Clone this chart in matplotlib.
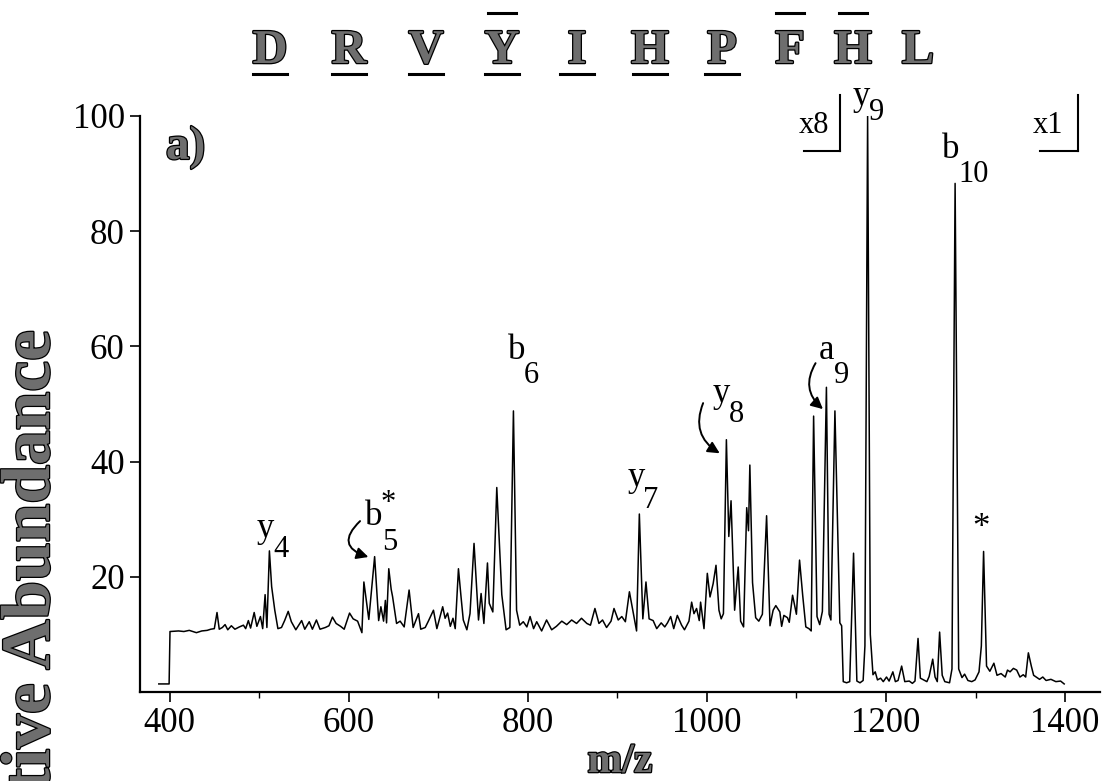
import matplotlib
matplotlib.use("Agg")
import matplotlib.pyplot as plt
import matplotlib.patheffects as pe
from matplotlib.patches import FancyArrowPatch
from matplotlib.ticker import MultipleLocator

# ---------------- data ----------------
mz = [388, 399.5, 400.5, 410, 416, 422, 430, 436, 442, 446, 450, 453, 455.5, 459, 462, 465, 469,
      473, 478, 482.5, 485, 488, 490.5, 494.5, 497.5, 501.5, 504, 506.7, 508.7, 511.5, 514, 517.5,
      521, 525, 528.5, 532.5, 536, 541, 547.5, 551, 556, 559.5, 564, 568, 574, 578, 581.9, 586,
      591, 595, 601, 605, 610, 614.8, 617, 622.5, 629, 633.5, 636, 639, 641, 642.3, 644.8, 647.5,
      649, 653.5, 657.5, 662, 667.5, 672, 678, 680.5, 685.5, 689, 694.7, 698.5, 705, 707.7, 710.5,
      713.5, 716.5, 719, 722.6, 725.5, 728, 732, 735.5, 740, 745, 747.9, 751, 755, 757, 761,
      765.4, 771, 775.8, 780, 784, 787.5, 791, 795, 799, 802.6, 806.5, 810, 815.5, 821, 826.7,
      832, 838, 843.5, 849, 854.5, 860, 866, 870, 875, 879.5, 883.5, 888, 893, 896.3, 901, 905,
      909, 913.5, 918, 921.5, 924.6, 928.5, 932, 935.5, 940, 944, 949, 953, 956, 959.6, 963,
      967, 971.8, 975, 980, 983, 985.6, 988.5, 991.5, 993, 996.8, 1000.5, 1003.5, 1007, 1010.2,
      1013.5, 1016, 1018.5, 1021.8, 1024.5, 1027, 1031, 1035, 1037.7, 1041, 1044.5, 1046.5,
      1048, 1051, 1054.5, 1058, 1062, 1066.7, 1070.5, 1074, 1077, 1081.5, 1083.5, 1086, 1090,
      1092, 1095.7, 1100, 1103.5, 1107, 1110.5, 1114, 1116.5, 1119.2, 1123, 1126, 1129, 1133.5,
      1136.5, 1138.5, 1143, 1146.5, 1148.5, 1150.5, 1152.3, 1156, 1159.5, 1163.8, 1167.5, 1171,
      1174.5, 1176.5, 1179.5, 1182.5, 1185.5, 1188, 1190.5, 1194, 1197, 1200.6, 1203.5, 1207.7,
      1210.5, 1213.5, 1217.5, 1221, 1226, 1229.5, 1232.4, 1235.8, 1238.4, 1242, 1245.7, 1248.2,
      1252.2, 1254.8, 1257.3, 1259.9, 1262.8, 1265.7, 1271, 1273.7, 1277.2, 1281.2, 1284.9,
      1287.8, 1291.5, 1295.8, 1299.5, 1303.9, 1306.5, 1309, 1312.3, 1316, 1320.5, 1324, 1328.5,
      1333.2, 1335.7, 1338.6, 1342.3, 1346, 1349.6, 1353.3, 1356, 1359, 1362.3, 1364.9, 1367.8,
      1371.5, 1375.1, 1378.8, 1384.2, 1389.7, 1395, 1399]
intensity = [1.4, 1.4, 10.5, 10.6, 10.5, 10.7, 10.3, 10.6, 10.7, 10.9, 11.0, 13.8, 10.9, 11.2, 11.7,
             10.8, 11.5, 10.9, 11.3, 11.6, 11.0, 12.4, 11.1, 13.8, 11.4, 13.1, 11.0, 16.9, 11.2,
             24.5, 18.3, 14.2, 11.0, 11.2, 12.4, 14.0, 12.2, 10.8, 12.4, 10.9, 12.2, 10.9, 12.5,
             10.9, 11.2, 11.5, 13.0, 11.9, 11.4, 10.9, 13.7, 12.7, 12.3, 10.3, 19.1, 12.6, 23.5,
             12.4, 14.8, 12.3, 15.9, 12.0, 21.4, 17.8, 16.6, 11.9, 12.3, 11.3, 17.7, 11.2, 13.6,
             10.9, 11.2, 12.3, 14.2, 11.0, 14.8, 12.8, 13.7, 11.4, 12.8, 11.0, 21.4, 16.5, 12.5,
             10.8, 13.6, 25.8, 12.5, 17.1, 11.9, 22.4, 15.4, 13.9, 35.5, 16.9, 10.8, 11.2, 48.8,
             14.2, 11.6, 12.2, 11.3, 13.1, 11.0, 12.2, 10.6, 12.5, 10.8, 11.4, 12.3, 11.7, 12.5,
             11.9, 12.8, 11.9, 11.6, 14.5, 11.9, 12.5, 11.2, 12.3, 14.5, 12.5, 13.1, 12.2, 17.4,
             13.6, 10.6, 30.9, 12.7, 19.1, 12.7, 12.4, 11.0, 12.0, 11.3, 12.0, 13.1, 11.0, 13.3,
             11.6, 10.8, 12.3, 15.6, 13.6, 14.5, 12.4, 15.6, 11.0, 20.6, 16.5, 18.8, 22.0, 14.2,
             12.7, 13.6, 43.8, 27.0, 33.2, 14.2, 21.7, 12.3, 11.3, 32.0, 28.0, 39.4, 19.0, 12.9,
             12.3, 13.5, 30.6, 11.5, 14.2, 15.0, 13.9, 11.4, 13.3, 12.9, 12.1, 16.8, 13.5, 22.9,
             16.8, 11.3, 11.0, 10.6, 47.9, 13.1, 11.7, 14.0, 52.9, 13.5, 12.5, 48.8, 25.0, 12.0,
             11.5, 1.8, 1.6, 1.8, 24.1, 1.9, 1.6, 2.0, 8.0, 100.0, 10.0, 3.0, 3.5, 2.1, 2.4, 1.8,
             2.6, 1.9, 3.5, 1.8, 2.0, 4.5, 1.8, 1.9, 1.5, 1.9, 9.3, 2.4, 2.1, 1.8, 2.7, 5.7, 2.6,
             1.8, 10.4, 2.9, 1.8, 1.6, 4.0, 88.3, 4.0, 2.5, 3.1, 2.0, 1.8, 2.1, 3.5, 8.0, 24.4,
             4.5, 3.6, 5.0, 2.9, 3.2, 2.6, 3.8, 3.5, 4.1, 3.8, 2.6, 3.0, 2.6, 6.8, 4.5, 2.9, 2.6,
             2.2, 2.6, 2.0, 2.2, 1.8, 1.9, 1.4]

x_ticks = [400, 600, 800, 1000, 1200, 1400]
y_ticks = [20, 40, 60, 80, 100]

sequence = ["D", "R", "V", "Y", "I", "H", "P", "F", "H", "L"]
underlined = [True, True, True, True, True, True, True, False, False, False]
overlined = [False, False, False, True, False, False, False, True, True, False]

# ion labels: (main, subscript, superscript)
ion_labels = [("y", "4", ""), ("b", "5", "*"), ("b", "6", ""), ("y", "7", ""),
              ("y", "8", ""), ("a", "9", ""), ("y", "9", ""), ("b", "10", ""), ("*", "", "")]

# ---------------- figure ----------------
SERIF = ["Liberation Serif", "DejaVu Serif"]
plt.rcParams["font.family"] = SERIF

W, H = 1105, 781
fig = plt.figure(figsize=(W / 100, H / 100), dpi=100)
ax = fig.add_axes([140 / W, 1 - 692 / H, 960 / W, (692 - 116) / H])

ax.plot(mz, intensity, color="black", lw=1.1, solid_joinstyle="round")

ax.set_xlim(367, 1439)
ax.set_ylim(0, 100)
for s in ("top", "right"):
    ax.spines[s].set_visible(False)
for s in ("left", "bottom"):
    ax.spines[s].set_linewidth(1.6)
ax.spines["left"].set_bounds(0, 100)

ax.set_xticks(x_ticks)
ax.set_xticklabels([str(t) for t in x_ticks])
ax.xaxis.set_minor_locator(MultipleLocator(100))
ax.set_yticks(y_ticks)
ax.set_yticklabels([str(t) for t in y_ticks])
ax.tick_params(axis="both", which="major", direction="out", length=7, width=1.2,
               labelsize=25, pad=4)
ax.tick_params(axis="x", which="minor", direction="out", length=4, width=1.0)

gray_fx = [pe.withStroke(linewidth=1.8, foreground="black")]
GRAY = "#6e6e6e"

ax.set_xlabel("m/z", fontsize=30, fontweight="bold", color=GRAY, labelpad=2,
              path_effects=gray_fx)
# y label: cut off at the bottom edge as in the reference
fig.text(32 / W, 1 - 330 / H, "Relative Abundance", rotation=90, ha="center", va="top",
         fontsize=50, fontweight="bold", color=GRAY, path_effects=gray_fx)

ax.text(396, 94.5, "a)", fontsize=34, fontweight="bold", color=GRAY,
        path_effects=gray_fx, ha="left", va="center")

# sequence on top
letter_px = [270, 349, 426, 502, 577, 650, 722, 790, 853, 918]
for ch, xp, ul, ol in zip(sequence, letter_px, underlined, overlined):
    fig.text(xp / W, 1 - 63 / H, ch, ha="center", va="baseline", fontsize=35,
             fontweight="bold", color=GRAY, path_effects=gray_fx)
    if ul:
        fig.add_artist(plt.Line2D([(xp - 17) / W, (xp + 17) / W], [1 - 74 / H] * 2,
                                  color="black", lw=2.2))
    if ol:
        fig.add_artist(plt.Line2D([(xp - 14) / W, (xp + 14) / W], [1 - 13 / H] * 2,
                                  color="black", lw=2.2))

# ion labels with subscripts (positions in data units)
label_pos = [((507, 28.4), (524.5, 24.8)),
             ((627.5, 30.4), (645.5, 26.0)),
             ((788, 59.3), (804.5, 55.0)),
             ((921, 37.2), (937.5, 33.3)),
             ((1016, 51.8), (1033.5, 48.2)),
             ((1134, 59.3), (1150.5, 55.0)),
             ((1172, 103.4), (1189.5, 100.6)),
             ((1272.5, 94.2), (1298, 89.8)),
             ((1306.6, 28.4), None)]
for (main, sub, sup), (mpos, spos) in zip(ion_labels, label_pos):
    ax.text(mpos[0], mpos[1], main, fontsize=25, ha="center", va="center", clip_on=False)
    if sub:
        ax.text(spos[0], spos[1], sub, fontsize=22, ha="center", va="center", clip_on=False)
    if sup:
        ax.text(spos[0] - 1, spos[1] + 6.8, sup, fontsize=22, ha="center", va="center",
                clip_on=False)

# curved arrows
arrows = [((615, 30.0), (625, 23.3), 0.9),
          ((997, 50.6), (1017, 41.2), 0.45),
          ((1123, 57.5), (1132, 48.8), 0.45)]
for start, end, rad in arrows:
    ax.add_patch(FancyArrowPatch(start, end, connectionstyle=f"arc3,rad={rad}",
                                 arrowstyle="-|>,head_length=7,head_width=3.5",
                                 color="black", lw=1.4, clip_on=False))

# scale brackets x8 / x1
for label, xv, xh, xt in [("x8", 1148.5, 1108, 1120), ("x1", 1414, 1372, 1381)]:
    ax.plot([xv, xv], [103.6, 94.0], color="black", lw=1.5, clip_on=False)
    ax.plot([xh, xv], [94.0, 94.0], color="black", lw=1.5, clip_on=False)
    ax.text(xt, 98.3, label, fontsize=22, ha="center", va="center", clip_on=False)

fig.savefig("out.png", dpi=100)
